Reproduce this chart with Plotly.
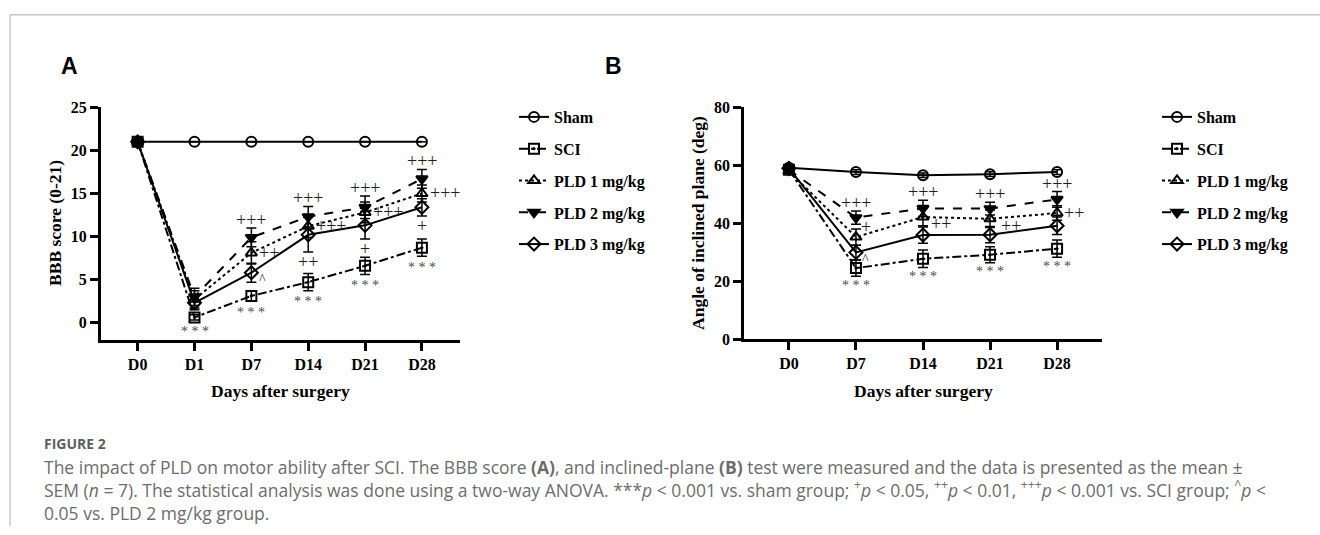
import plotly.graph_objects as go

# ---------------- data ----------------
days_a = ["D0", "D1", "D7", "D14", "D21", "D28"]
days_b = ["D0", "D7", "D14", "D21", "D28"]
groups = ["Sham", "SCI", "PLD 1 mg/kg", "PLD 2 mg/kg", "PLD 3 mg/kg"]

# Panel A: BBB score (mean, SEM)
a_sham = [21, 21, 21, 21, 21, 21]
a_sham_sem = [0, 0, 0, 0, 0, 0]
a_sci = [21, 0.6, 3.1, 4.7, 6.6, 8.7]
a_sci_sem = [0, 0.3, 0.6, 1.0, 1.0, 1.0]
a_pld1 = [21, 2.7, 8.1, 11.2, 12.8, 15.0]
a_pld1_sem = [0, 1.0, 1.3, 1.3, 1.2, 1.0]
a_pld2 = [21, 3.0, 9.9, 12.3, 13.4, 16.7]
a_pld2_sem = [0, 1.0, 1.1, 1.2, 1.3, 1.1]
a_pld3 = [21, 2.3, 5.8, 10.2, 11.3, 13.4]
a_pld3_sem = [0, 0.8, 1.1, 2.0, 1.6, 1.0]

# Panel B: angle of inclined plane (mean, SEM)
b_sham = [59.2, 57.7, 56.6, 57.0, 57.7]
b_sham_sem = [0.8, 0.8, 0.8, 0.8, 0.8]
b_sci = [58.5, 24.6, 27.8, 29.2, 31.3]
b_sci_sem = [0.8, 2.8, 3.0, 2.8, 3.0]
b_pld1 = [58.0, 35.3, 42.2, 41.6, 43.6]
b_pld1_sem = [0.8, 2.8, 3.0, 3.0, 2.5]
b_pld2 = [58.5, 42.0, 45.2, 45.1, 48.3]
b_pld2_sem = [0.8, 2.3, 2.8, 2.2, 2.7]
b_pld3 = [59.0, 30.0, 36.0, 36.1, 39.2]
b_pld3_sem = [0.8, 2.5, 2.8, 2.8, 3.0]

# significance labels (text per time point; "" = none)
a_sci_sig = ["", "***", "***", "***", "***", "***"]
a_pld2_sig = ["", "", "+++", "+++", "+++", "+++"]
a_pld1_sig = ["", "", "++", "+++", "+++", "+++"]
a_pld3_sig = ["", "", "", "++", "+", "+"]
a_pld3_vs2 = ["", "", "^", "", "", ""]
b_sci_sig = ["", "***", "***", "***", "***"]
b_pld2_sig = ["", "+++", "+++", "+++", "+++"]
b_pld1_sig = ["", "+", "++", "++", "++"]
b_pld3_vs2 = ["", "^", "", "", ""]

# ---------------- styles ----------------
W, H = 1320, 535
SERIF = "Liberation Serif"
styles = {
    "Sham": dict(symbol="circle-open", dash="solid"),
    "SCI": dict(symbol="square-open-dot", dash="dashdot"),
    "PLD 1 mg/kg": dict(symbol="triangle-up-open", dash="dot"),
    "PLD 2 mg/kg": dict(symbol="triangle-down", dash="dash"),
    "PLD 3 mg/kg": dict(symbol="diamond-open", dash="solid"),
}


def px_x(p):
    return p / W


def px_y(p):
    return 1 - p / H


fig = go.Figure()

panel_a = [(a_sham, a_sham_sem), (a_sci, a_sci_sem), (a_pld1, a_pld1_sem),
           (a_pld2, a_pld2_sem), (a_pld3, a_pld3_sem)]
panel_b = [(b_sham, b_sham_sem), (b_sci, b_sci_sem), (b_pld1, b_pld1_sem),
           (b_pld2, b_pld2_sem), (b_pld3, b_pld3_sem)]

for panel, days, xa, ya, leg in [(panel_a, days_a, "x", "y", "legend"),
                                 (panel_b, days_b, "x2", "y2", "legend2")]:
    for name, (vals, sem) in zip(groups, panel):
        st = styles[name]
        fig.add_trace(go.Scatter(
            x=days, y=vals, name=name, mode="lines+markers",
            xaxis=xa, yaxis=ya, legend=leg, legendgroup=leg + name,
            line=dict(color="black", width=2, dash=st["dash"]),
            marker=dict(symbol=st["symbol"], size=10, color="black",
                        line=dict(color="black", width=2)),
            error_y=dict(type="data", array=sem, visible=True,
                         color="black", thickness=1.5, width=5),
        ))

annotations = []
SIG_COLOR = "#1e1e1e"
STAR_COLOR = "#4a4a4a"


def add_label(xref, yref, x, y, text, xshift=0, yshift=0, xanchor="center",
              size=18, color=SIG_COLOR):
    annotations.append(dict(
        xref=xref, yref=yref, x=x, y=y, text=text, showarrow=False,
        xanchor=xanchor, yanchor="middle", xshift=xshift, yshift=yshift,
        font=dict(family=SERIF, size=size, color=color)))


# Panel A significance
for i, d in enumerate(days_a):
    if a_sci_sig[i]:
        add_label("x", "y", d, a_sci[i] - a_sci_sem[i], "* * *", yshift=-11,
                  size=14, color=STAR_COLOR)
    if a_pld2_sig[i]:
        add_label("x", "y", d, a_pld2[i] + a_pld2_sem[i], a_pld2_sig[i], yshift=8)
    if a_pld1_sig[i]:
        add_label("x", "y", d, a_pld1[i], a_pld1_sig[i], xshift=6, xanchor="left")
    if a_pld3_sig[i]:
        add_label("x", "y", d, a_pld3[i] - a_pld3_sem[i], a_pld3_sig[i], yshift=-10)
    if a_pld3_vs2[i]:
        add_label("x", "y", d, a_pld3[i], a_pld3_vs2[i], xshift=11, yshift=-7, size=14)

# Panel B significance
b_pld1_shift = [0, 10, -7, -7, 0]
b_pld1_xshift = [0, 3, 6, 9, 5]
for i, d in enumerate(days_b):
    if b_sci_sig[i]:
        add_label("x2", "y2", d, b_sci[i] - b_sci_sem[i], "* * *", yshift=-9,
                  size=14, color=STAR_COLOR)
    if b_pld2_sig[i]:
        add_label("x2", "y2", d, b_pld2[i] + b_pld2_sem[i], b_pld2_sig[i], yshift=8)
    if b_pld1_sig[i]:
        add_label("x2", "y2", d, b_pld1[i], b_pld1_sig[i], xshift=b_pld1_xshift[i],
                  yshift=b_pld1_shift[i], xanchor="left")
    if b_pld3_vs2[i]:
        add_label("x2", "y2", d, b_pld3[i], b_pld3_vs2[i], xshift=10, yshift=-7, size=14)

# Panel letters
for txt, x in [("A", 69), ("B", 613)]:
    annotations.append(dict(xref="paper", yref="paper", x=px_x(x), y=px_y(60),
                            text="<b>%s</b>" % txt, showarrow=False,
                            xanchor="center", yanchor="middle",
                            font=dict(family="Liberation Sans", size=23, color="black")))

# Axis titles
for txt, x, y, ang in [("BBB score (0-21)", 55, 222, -90),
                       ("Angle of inclined plane (deg)", 698, 222, -90),
                       ("Days after surgery", 280, 396, 0),
                       ("Days after surgery", 923, 396, 0)]:
    annotations.append(dict(xref="paper", yref="paper", x=px_x(x), y=px_y(y),
                            text="<b>%s</b>" % txt, showarrow=False, textangle=ang,
                            xanchor="center", yanchor="middle",
                            font=dict(family=SERIF, size=17.5, color="black")))

# Caption
annotations.append(dict(xref="paper", yref="paper", x=px_x(42), y=px_y(450),
                        text="<b>FIGURE 2</b>", showarrow=False, xanchor="left",
                        yanchor="middle",
                        font=dict(family="Open Sans", size=14, color="#5e5e5e")))
caption_text = (
    "The impact of PLD on motor ability after SCI. The BBB score <b>(A)</b>, and inclined-plane "
    "<b>(B)</b> test were measured and the data is presented as the mean ±<br>"
    "SEM (<i>n</i> = 7). The statistical analysis was done using a two-way ANOVA. ***<i>p</i> &lt; 0.001 "
    "vs. sham group; <sup>+</sup><i>p</i> &lt; 0.05, <sup>++</sup><i>p</i> &lt; 0.01, "
    "<sup>+++</sup><i>p</i> &lt; 0.001 vs. SCI group; <sup>^</sup><i>p</i> &lt;<br>"
    "0.05 vs. PLD 2 mg/kg group."
)
annotations.append(dict(xref="paper", yref="paper", x=px_x(42), y=px_y(459.5),
                        text=caption_text, showarrow=False, xanchor="left",
                        yanchor="top", align="left",
                        font=dict(family="Open Sans", size=17.5, color="#6c6c6c")))

axis_common = dict(showline=True, linewidth=2.5, linecolor="black", ticks="outside",
                   ticklen=8, tickwidth=2.5, tickcolor="black", showgrid=False,
                   zeroline=False, mirror=False,
                   tickfont=dict(family=SERIF, size=16, color="black", weight="bold"))

legend_common = dict(xanchor="left", yanchor="top", bgcolor="rgba(0,0,0,0)",
                     tracegroupgap=8, itemwidth=30,
                     font=dict(family=SERIF, size=16, color="black", weight="bold"))

fig.update_layout(
    width=W, height=H, margin=dict(l=0, r=0, t=0, b=0),
    paper_bgcolor="white", plot_bgcolor="white",
    showlegend=True,
    xaxis=dict(domain=[px_x(100.7), px_x(460)], anchor="y", type="category",
               range=[-0.65, 5.67], **axis_common),
    yaxis=dict(domain=[px_y(342.7), px_y(102.7)], anchor="x", range=[-2, 25],
               tickvals=[0, 5, 10, 15, 20, 25], **axis_common),
    xaxis2=dict(domain=[px_x(744), px_x(1102)], anchor="y2", type="category",
                range=[-0.67, 4.67], **axis_common),
    yaxis2=dict(domain=[px_y(342.3), px_y(102.7)], anchor="x2", range=[0, 80],
                tickvals=[0, 20, 40, 60, 80], **axis_common),
    legend=dict(x=px_x(514), y=px_y(95), **legend_common),
    legend2=dict(x=px_x(1157), y=px_y(95), **legend_common),
    annotations=annotations,
    shapes=[
        dict(type="line", xref="paper", yref="paper", x0=px_x(10), x1=1,
             y0=px_y(7), y1=px_y(7), line=dict(color="#c8c8c8", width=1.5)),
        dict(type="line", xref="paper", yref="paper", x0=px_x(10), x1=px_x(10),
             y0=px_y(7), y1=0, line=dict(color="#c8c8c8", width=1.5)),
    ],
)

fig.write_html(
    "out.html",
    config={"displayModeBar": False},
    post_script="document.body.style.margin='0px';document.body.style.overflow='hidden';",
)
